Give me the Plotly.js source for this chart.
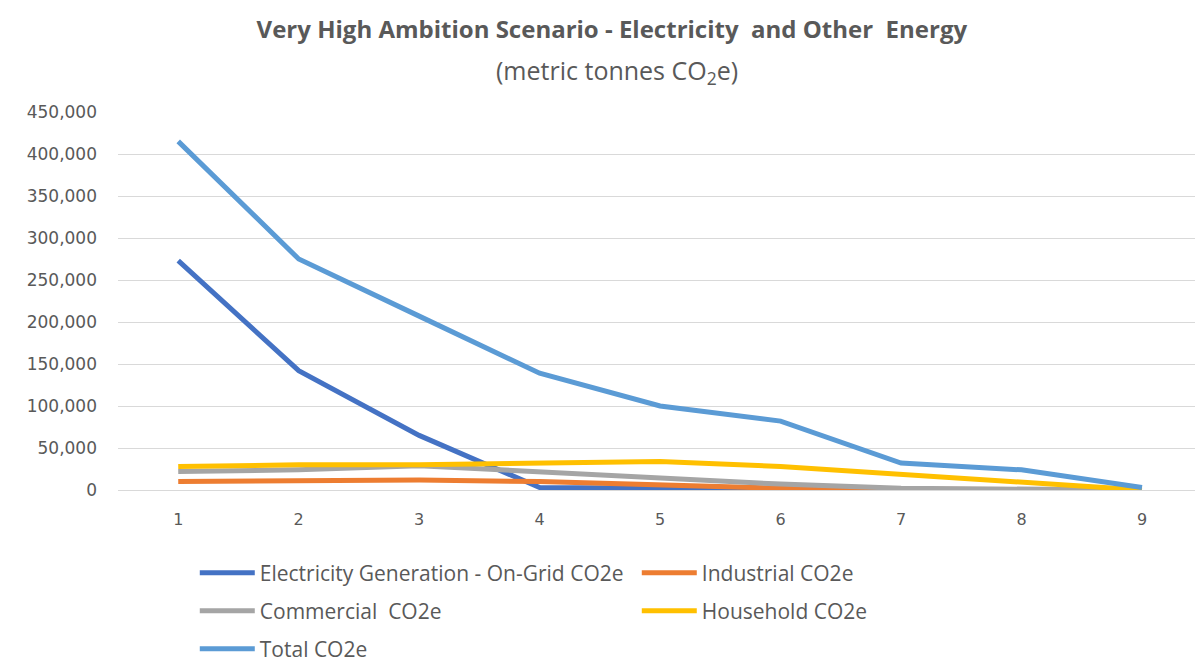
<!DOCTYPE html>
<html>
<head>
<meta charset="utf-8">
<script src="https://cdn.plot.ly/plotly-3.0.1.min.js"></script>
<style>html,body{margin:0;padding:0;background:#fff;}#chart{width:1195px;height:664px;}</style>
</head>
<body>
<div id="chart"></div>
<script>
const categories = [1, 2, 3, 4, 5, 6, 7, 8, 9];
const electricity = [273000, 142000, 65000, 3000, 2000, 1000, 0, 0, 0];
const industrial = [10000, 11000, 12000, 10000, 6000, 2000, 1000, 0, 0];
const commercial = [22000, 24000, 29000, 22000, 14000, 7000, 2000, 1000, 0];
const household = [28000, 30000, 30000, 32000, 34000, 28000, 19000, 10000, 0];
const total = [415000, 275000, 207000, 139000, 100000, 82000, 32000, 24000, 3000];
const yTicks = [0, 50000, 100000, 150000, 200000, 250000, 300000, 350000, 400000, 450000];
const yTickText = ['0', '50,000', '100,000', '150,000', '200,000', '250,000', '300,000', '350,000', '400,000', '450,000'];

const seriesNames = ['Electricity Generation - On-Grid CO2e', 'Industrial CO2e', 'Commercial  CO2e', 'Household CO2e', 'Total CO2e'];
const seriesData = [electricity, industrial, commercial, household, total];
const colors = ['#4472C4', '#ED7D31', '#A5A5A5', '#FFC000', '#5B9BD5'];
const legendIds = ['legend', 'legend', 'legend2', 'legend2', 'legend3'];

const traces = seriesData.map((d, i) => ({
  x: categories, y: d, name: seriesNames[i], type: 'scatter', mode: 'lines',
  line: {color: colors[i], width: 5},
  legend: legendIds[i]
}));

const legendFont = {family: 'Open Sans, sans-serif', size: 21, color: '#595959'};
const legBase = {orientation: 'h', xref: 'container', yref: 'container', x: 0.163, xanchor: 'left', yanchor: 'middle',
  font: legendFont, entrywidth: 372, itemwidth: 55, bgcolor: 'rgba(0,0,0,0)', traceorder: 'normal'};

const layout = {
  width: 1195, height: 664,
  paper_bgcolor: '#ffffff', plot_bgcolor: '#ffffff',
  margin: {l: 118, r: 0, t: 112, b: 174},
  title: {text: '<b>Very High Ambition Scenario - Electricity  and Other  Energy</b>',
    font: {family: 'Open Sans, sans-serif', size: 24, color: '#595959'},
    x: 0.512, xanchor: 'center', y: 0.955, yanchor: 'middle'},
  annotations: [{text: '(metric tonnes CO<sub>2</sub>e)', xref: 'paper', yref: 'paper', x: 0.463, y: (490 - 71) / 378,
    xanchor: 'center', yanchor: 'middle', showarrow: false,
    font: {family: 'Open Sans, sans-serif', size: 25, color: '#595959'}}],
  xaxis: {range: [0.5, 9.44], tickvals: categories, ticktext: categories.map(String),
    showgrid: false, zeroline: false, showline: false, ticks: '',
    tickfont: {family: 'DejaVu Sans, sans-serif', size: 16, color: '#595959'}, ticklabelstandoff: 18, fixedrange: true},
  yaxis: {range: [0, 450000], tickvals: yTicks, ticktext: yTickText,
    showgrid: true, gridcolor: '#d9d9d9', gridwidth: 1, zeroline: true, zerolinecolor: '#d9d9d9', zerolinewidth: 1,
    showline: false, ticks: '',
    tickfont: {family: 'DejaVu Sans, sans-serif', size: 17, color: '#595959'}, ticklabelstandoff: 20, fixedrange: true},
  showlegend: true,
  legend: Object.assign({}, legBase, {y: 1 - 573/664}),
  legend2: Object.assign({}, legBase, {y: 1 - 611/664}),
  legend3: Object.assign({}, legBase, {y: 1 - 649/664})
};

Plotly.newPlot('chart', traces, layout, {staticPlot: true, displayModeBar: false});
</script>
</body>
</html>
